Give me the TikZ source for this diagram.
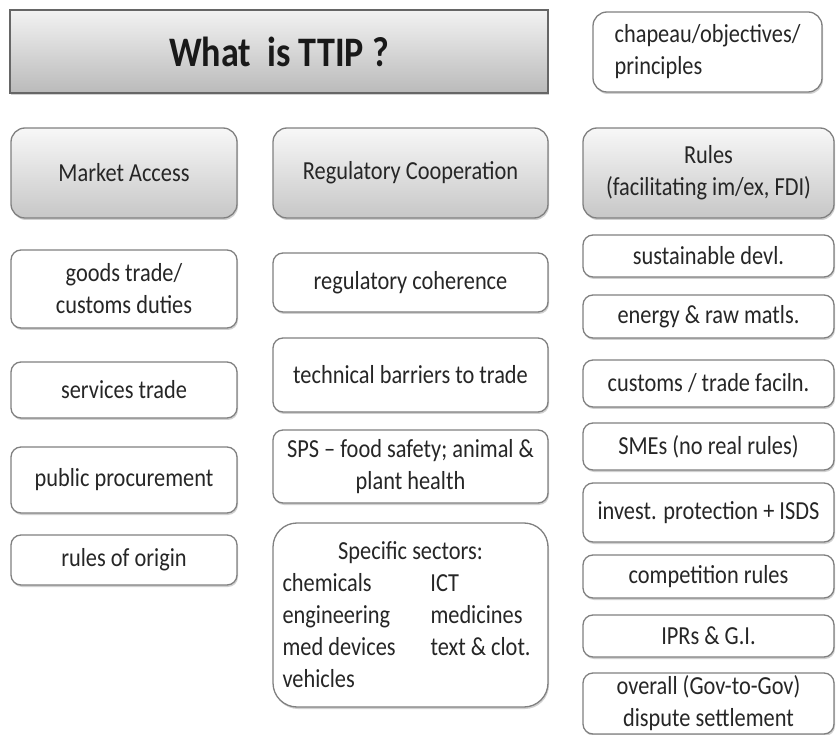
\documentclass[tikz,border=0pt]{standalone}
\usepackage{fontspec}
\setmainfont{Carlito}[FakeStretch=0.86]
\usetikzlibrary{shadows}
\begin{document}
\begin{tikzpicture}[x=1pt,y=-1pt,
  base/.style={draw=black!50, line width=1.3pt, text=black!85,
    font=\fontsize{26}{32}\selectfont, align=center, inner sep=0pt,
    drop shadow={shadow xshift=1pt, shadow yshift=-2pt, opacity=0.3, fill=black!60}},
  item/.style={base, rounded corners=10pt, fill=white},
  bigitem/.style={base, rounded corners=24pt, fill=white},
  head/.style={base, rounded corners=14pt, top color=black!3, bottom color=black!22},
  titlebox/.style={base, rounded corners=0pt, top color=black!5, bottom color=black!27,
    draw=black!60, font=\fontsize{42}{48}\bfseries\selectfont, text=black!90}]
\useasboundingbox (0,0) rectangle (836,735);

% top row
\node[titlebox, minimum width=538pt, minimum height=83pt] (title) at (279,51.5) {What\ \ is TTIP ?};
\node[item, rounded corners=14pt, minimum width=229pt, minimum height=80pt, align=left] (chap) at (707.5,52) {chapeau/objectives/\\principles};

% headers
\node[head, minimum width=226pt, minimum height=90pt] (ma) at (124,173) {Market Access};
\node[head, minimum width=275pt, minimum height=90pt] (rc) at (410.5,173) {Regulatory Cooperation};
\node[head, minimum width=251pt, minimum height=90pt] (ru) at (708.5,173) {Rules\\(facilitating im/ex, FDI)};

% column 1
\node[item, minimum width=226pt, minimum height=78pt] (goods) at (124,289) {goods trade/\\customs duties};
\node[item, minimum width=226pt, minimum height=56pt] (serv) at (124,390) {services trade};
\node[item, minimum width=226pt, minimum height=66pt] (proc) at (124,480) {public procurement};
\node[item, minimum width=226pt, minimum height=50pt] (orig) at (124,560) {rules of origin};

% column 2
\node[item, minimum width=275pt, minimum height=59pt] (coh) at (410.5,282.5) {regulatory coherence};
\node[item, minimum width=275pt, minimum height=74pt] (tbt) at (410.5,375) {technical barriers to trade};
\node[item, minimum width=275pt, minimum height=73pt] (sps) at (410.5,466.5) {SPS -- food safety; animal \&\\plant health};
\node[bigitem, minimum width=275pt, minimum height=184pt, align=left] (spec) at (410.5,615)
  {\makebox[256pt]{Specific sectors:}\\
   \makebox[148pt][l]{chemicals}ICT\\
   \makebox[148pt][l]{engineering}medicines\\
   \makebox[148pt][l]{med devices}text \& clot.\\
   vehicles};

% column 3
\node[item, minimum width=251pt, minimum height=42pt] (sust) at (708.5,256) {sustainable devl.};
\node[item, minimum width=251pt, minimum height=43pt] (ener) at (708.5,316.5) {energy \& raw matls.};
\node[item, minimum width=251pt, minimum height=47pt] (cust) at (708.5,383.5) {customs / trade faciln.};
\node[item, minimum width=251pt, minimum height=47pt] (smes) at (708.5,446.5) {SMEs (no real rules)};
\node[item, minimum width=251pt, minimum height=59pt] (inv) at (708.5,512.5) {invest. protection + ISDS};
\node[item, minimum width=251pt, minimum height=43pt] (comp) at (708.5,576.5) {competition rules};
\node[item, minimum width=251pt, minimum height=42pt] (ipr) at (708.5,636) {IPRs \& G.I.};
\node[item, minimum width=251pt, minimum height=61pt] (disp) at (708.5,703.5) {overall (Gov-to-Gov)\\dispute settlement};
\end{tikzpicture}
\end{document}
